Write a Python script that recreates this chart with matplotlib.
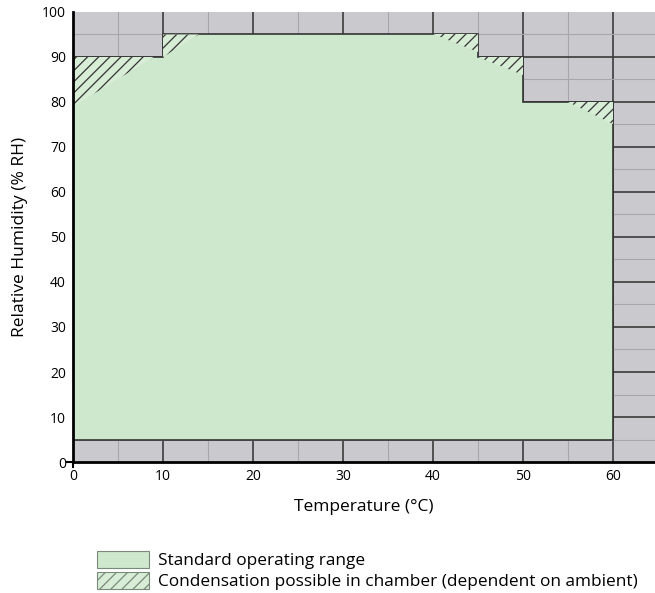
import numpy as np
import matplotlib.pyplot as plt
from matplotlib.patches import Polygon, Patch

plt.rcParams['font.family'] = ['Open Sans', 'DejaVu Sans']
plt.rcParams['hatch.color'] = '#333333'
plt.rcParams['hatch.linewidth'] = 0.9

# boundary of the standard operating range (temperature, %RH)
range_temp = [0, 60, 60, 50, 50, 45, 45, 10, 10, 0]
range_rh = [5, 5, 80, 80, 90, 90, 95, 95, 90, 90]

# condensation zones (triangles below the steps)
cond_zones = [
    ([0, 9, 0], [90, 90, 79]),
    ([10, 14, 10], [95, 95, 90]),
    ([40, 45, 45], [95, 95, 91]),
    ([45, 50, 50], [90, 90, 86]),
    ([55, 60, 60], [80, 80, 75]),
]

x_ticks = [0, 10, 20, 30, 40, 50, 60]
y_ticks = [0, 10, 20, 30, 40, 50, 60, 70, 80, 90, 100]

grey = '#cacace'
green = '#cde8cc'
pale = '#d8edd6'

fig = plt.figure(figsize=(6.55, 5.93), dpi=100)
ax = fig.add_axes([0.1115, 0.2209, 0.8885, 0.7589])
ax.set_facecolor(grey)
ax.set_xlim(0, 64.7)
ax.set_ylim(0, 100)

# grid inside the grey (out of range) area
for v in np.arange(5, 65, 5):
    major = v % 10 == 0
    ax.axvline(v, color='#3a3a3a' if major else '#a6a6ac', lw=1.2 if major else 0.8, zorder=1)
for v in np.arange(5, 100, 5):
    major = v % 10 == 0
    ax.axhline(v, color='#3a3a3a' if major else '#a6a6ac', lw=1.2 if major else 0.8, zorder=1)

ax.add_patch(Polygon(list(zip(range_temp, range_rh)), closed=True, facecolor=green,
                     edgecolor='#333333', lw=1.2, zorder=2))
for tx, rh in cond_zones:
    ax.add_patch(Polygon(list(zip(tx, rh)), closed=True, facecolor=pale,
                         edgecolor='#333333', lw=0, hatch='///', zorder=3))

for s in ['top', 'right']:
    ax.spines[s].set_visible(False)
for s in ['left', 'bottom']:
    ax.spines[s].set_linewidth(2)
    ax.spines[s].set_zorder(5)

ax.set_xticks(x_ticks)
ax.set_yticks(y_ticks)
ax.tick_params(length=0, labelsize=10, pad=5)
ax.plot([-0.7, 0], [0, 0], color='black', lw=1.5, clip_on=False, zorder=6)
ax.plot([0, 0], [0, -1.2], color='black', lw=1.5, clip_on=False, zorder=6)

ax.set_xlabel('Temperature (°C)', fontsize=12.5, labelpad=11)
ax.set_ylabel('Relative Humidity (% RH)', fontsize=12.5, labelpad=10)

handles = [
    Patch(facecolor=green, edgecolor='#7a8a7a', lw=0.8, label='Standard operating range'),
    Patch(facecolor=pale, edgecolor='#7a8a7a', lw=0.8, hatch='///',
          label='Condensation possible in chamber (dependent on ambient)'),
]
fig.legend(handles=handles, loc='lower left', bbox_to_anchor=(0.13, -0.016), frameon=False,
           fontsize=12.4, handlelength=3.0, handleheight=1.2, labelspacing=0.15,
           handletextpad=0.55, borderaxespad=0.3)

fig.savefig('out.png', dpi=100)
